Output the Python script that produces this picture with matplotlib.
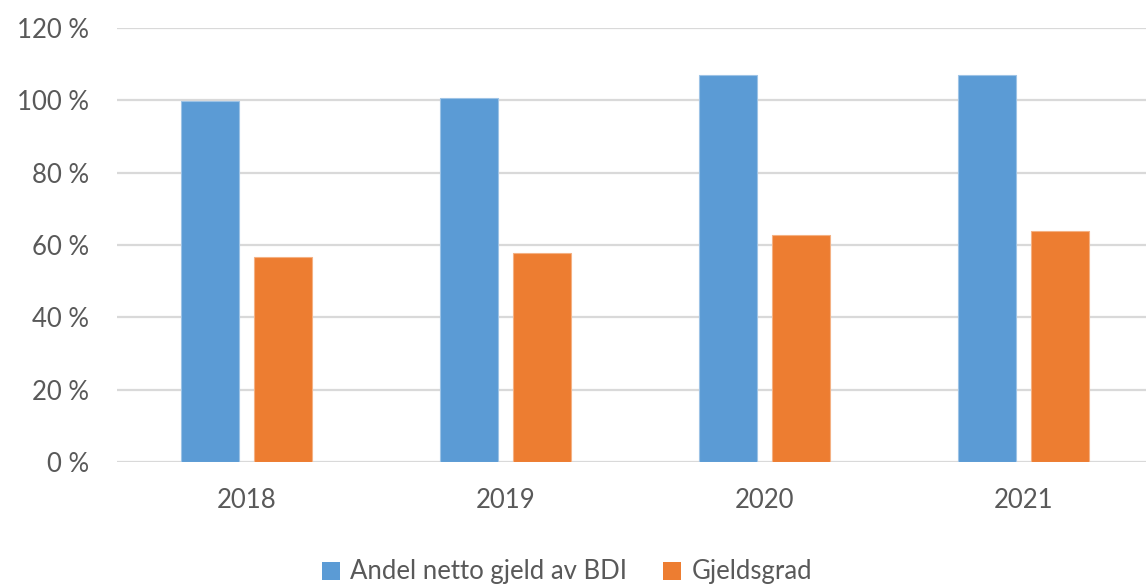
import numpy as np
import matplotlib
matplotlib.use("Agg")
import matplotlib.pyplot as plt
from matplotlib.ticker import FuncFormatter

years = ["2018", "2019", "2020", "2021"]
andel_netto_gjeld = [99.8, 100.6, 107.0, 107.0]
gjeldsgrad = [56.8, 57.7, 62.8, 63.8]

plt.rcParams["font.family"] = ["Lato", "DejaVu Sans"]

blue = "#5B9BD5"
orange = "#ED7D31"
text_col = "#595959"

fig = plt.figure(figsize=(11.46, 5.88), dpi=100)
# plot area runs a little past the right edge, like the source screenshot
ax = fig.add_axes([117 / 1146, 1 - 462 / 588, 1036 / 1146, (462 - 28) / 588])

x = np.arange(len(years))
w = 0.224
off = 0.141
ax.bar(x - off, andel_netto_gjeld, w, color=blue, edgecolor="#9DC3E6", linewidth=0.8,
       label="Andel netto gjeld av BDI", zorder=3)
ax.bar(x + off, gjeldsgrad, w, color=orange, edgecolor="#F4B183", linewidth=0.8,
       label="Gjeldsgrad", zorder=3)

ax.set_xlim(-0.5, 3.5)
ax.set_ylim(0, 120)
ax.set_yticks(range(0, 121, 20))
ax.yaxis.set_major_formatter(FuncFormatter(lambda v, p: f"{int(v)} %"))
ax.set_xticks(x)
ax.set_xticklabels(years)

ax.grid(axis="y", color="#D9D9D9", linewidth=1.6, zorder=0)
for s in ax.spines.values():
    s.set_visible(False)
ax.tick_params(axis="both", length=0, labelsize=18.5, colors=text_col)
ax.tick_params(axis="y", pad=20)
ax.tick_params(axis="x", pad=19)

leg = fig.legend(loc="center", bbox_to_anchor=(0.495, 1 - 572 / 588), ncol=2, frameon=False,
                 fontsize=18.5, handlelength=0.7, handleheight=0.7, handletextpad=0.4,
                 columnspacing=1.4, labelcolor=text_col)
for h in leg.legend_handles:
    h.set_edgecolor("none")

fig.savefig("out.png", dpi=100)
